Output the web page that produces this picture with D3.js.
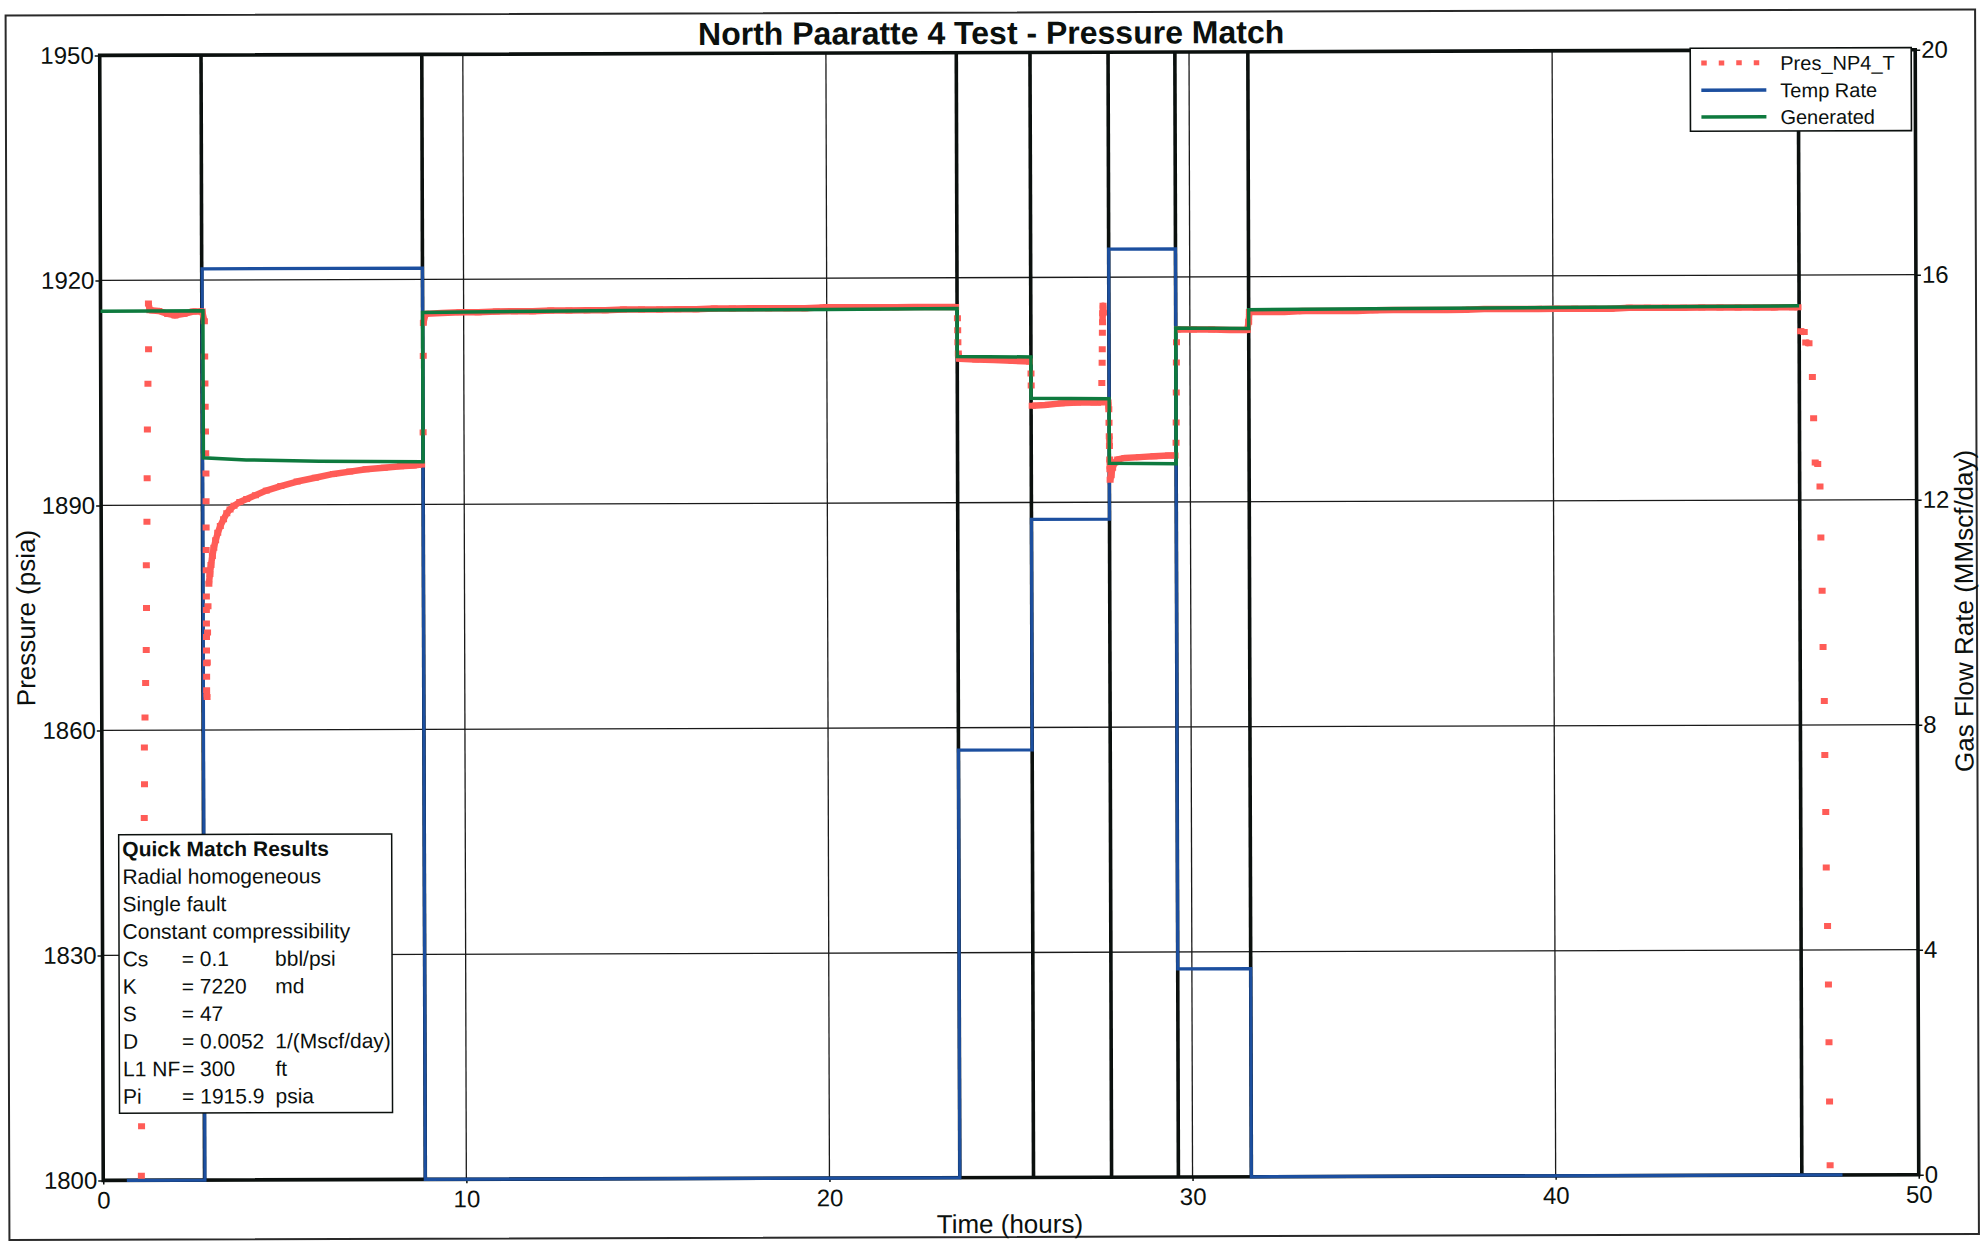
<!DOCTYPE html>
<html>
<head>
<meta charset="utf-8">
<title>North Paaratte 4 Test - Pressure Match</title>
<script src="https://cdn.jsdelivr.net/npm/d3@7"></script>
<style>
  html, body { margin: 0; padding: 0; background: #fff; }
  svg { display: block; font-family: "Liberation Sans", Arial, Helvetica, sans-serif; }
</style>
</head>
<body>
<svg id="chart" width="1981" height="1242"></svg>
<script>
// ---------- axis ticks ----------
const timeTicks = [0, 10, 20, 30, 40, 50];
const pressureTicks = [1800, 1830, 1860, 1890, 1920, 1950];
const rateTicks = [0, 4, 8, 12, 16, 20];
const pressureGrid = [1830, 1860, 1890, 1920];
const timeGrid = [10, 20, 30, 40];

// ---------- flow period boundaries (hours) ----------
const periodBreaks = [2.79, 8.87, 23.59, 25.62, 27.77, 29.61, 31.62, 46.78];

// ---------- gas rate history (step after each time) ----------
const rateHours = [0.65, 2.80, 8.87, 23.59, 25.62, 27.77, 29.61, 31.62, 47.9];
const rateMMscf = [0, 16.2, 0, 7.6, 11.7, 16.5, 3.7, 0, 0];

// ---------- generated (model) pressure ----------
const genHours = [0, 2.82, 2.82, 4.0, 6.0, 8.87, 8.87, 12, 16, 20, 23.59, 23.59, 25.62, 25.62, 27.77, 27.77, 29.61, 29.61, 31.62, 31.62, 36, 41, 46.78];
const genPsia  = [1915.9, 1915.9, 1896.3, 1896.0, 1895.8, 1895.7, 1915.6, 1915.7, 1915.8, 1915.8, 1915.9, 1909.5, 1909.4, 1903.9, 1903.8, 1895.2, 1895.1, 1913.2, 1913.1, 1915.6, 1915.7, 1915.8, 1915.9];

// ---------- gauge readings Pres_NP4_T, [hours, psia] ----------
const presRunIn = [[1.05,1800.6],[1.06,1807.2],[1.16,1848.3],[1.17,1852.8],[1.17,1857.7],[1.19,1861.7],[1.21,1866.3],[1.23,1870.7],[1.24,1876.3],[1.24,1882.0],[1.26,1887.8],[1.27,1893.6],[1.28,1900.1],[1.30,1906.2],[1.32,1910.8],[1.32,1916.9]];
const presStatic = [[1.36,1916.0],[1.60,1915.9],[1.85,1915.5],[2.05,1915.3],[2.30,1915.5],[2.55,1915.8],[2.80,1915.8]];
const presFlow1 = [[2.86,1914.5],[2.865,1909.8],[2.87,1906.2],[2.875,1903.1],[2.88,1899.8],[2.885,1896.9],[2.89,1894.2],[2.89,1890.5],[2.89,1887.0],[2.89,1884.0],[2.89,1881.3],[2.89,1877.8],[2.89,1876.0],[2.89,1874.2],[2.89,1872.4],[2.89,1870.6],[2.89,1868.9],[2.89,1867.1],[2.89,1865.3],[2.90,1864.4],
  [2.91,1869.0],[2.92,1873.0],[2.935,1876.5],[2.96,1879.5],[2.99,1880.8],[3.02,1882.0],[3.06,1883.2],[3.10,1884.3],[3.15,1885.3],[3.21,1886.3],[3.28,1887.2],[3.37,1888.1],[3.46,1888.9],[3.55,1889.4],[3.66,1889.9],[3.82,1890.4],[4.01,1890.8],[4.25,1891.3],[4.55,1891.9],[4.95,1892.5],[5.40,1893.1],[5.90,1893.6],[6.40,1894.1],[6.85,1894.4],[7.30,1894.7],[7.80,1894.9],[8.25,1895.1],[8.60,1895.2],[8.83,1895.3]];
const presShutIn1 = [[8.875,1899.6],[8.885,1909.8],[8.89,1914.2],[8.95,1915.4],[9.4,1915.5],[9.9,1915.6],[10.4,1915.6],[10.9,1915.7],[11.4,1915.7],[11.9,1915.7],[12.4,1915.8],[12.9,1915.8],[13.4,1915.8],[13.9,1915.8],[14.4,1915.9],[14.9,1915.9],[15.4,1915.9],[15.9,1915.9],[16.4,1915.9],[16.9,1916.0],[17.4,1916.0],[17.9,1916.0],[18.4,1916.0],[18.9,1916.0],[19.4,1916.0],[19.9,1916.1],[20.4,1916.1],[20.9,1916.1],[21.4,1916.1],[21.9,1916.1],[22.4,1916.1],[22.9,1916.1],[23.4,1916.1],[23.55,1916.1]];
const presFlow2 = [[23.60,1914.6],[23.605,1913.0],[23.61,1911.4],[23.62,1909.9],[23.65,1909.2],[24.1,1909.1],[24.6,1909.0],[25.1,1908.9],[25.58,1908.8]];
const presFlow3 = [[25.62,1907.2],[25.625,1905.6],[25.65,1902.9],[26.0,1903.0],[26.45,1903.2],[26.9,1903.3],[27.35,1903.3],[27.55,1903.3],[27.57,1905.9],[27.58,1908.6],[27.585,1910.4],[27.59,1912.6],[27.595,1914.0],[27.60,1915.2],[27.61,1916.2],[27.62,1915.3],[27.68,1903.4],[27.74,1903.3]];
const presFlow4 = [[27.76,1902.4],[27.765,1900.6],[27.77,1898.8],[27.775,1897.5],[27.78,1895.7],[27.785,1894.4],[27.79,1893.0],[27.82,1893.6],[27.86,1894.6],[27.92,1895.3],[28.0,1895.7],[28.2,1895.9],[28.6,1896.0],[29.0,1896.1],[29.4,1896.2],[29.58,1896.2]];
const presFlow5 = [[29.61,1897.9],[29.615,1900.6],[29.62,1904.6],[29.625,1908.6],[29.63,1911.3],[29.66,1913.0],[30.1,1913.0],[30.6,1913.0],[31.1,1912.9],[31.58,1912.9]];
const presShutIn2 = [[31.62,1914.0],[31.64,1915.3],[32.1,1915.3],[32.6,1915.3],[33.1,1915.4],[33.6,1915.4],[34.1,1915.4],[34.6,1915.4],[35.1,1915.5],[35.6,1915.5],[36.1,1915.5],[36.6,1915.5],[37.1,1915.5],[37.6,1915.5],[38.1,1915.6],[38.6,1915.6],[39.1,1915.6],[39.6,1915.6],[40.1,1915.6],[40.6,1915.6],[41.1,1915.6],[41.6,1915.6],[42.1,1915.7],[42.6,1915.7],[43.1,1915.7],[43.6,1915.7],[44.1,1915.7],[44.6,1915.7],[45.1,1915.7],[45.6,1915.7],[46.1,1915.7],[46.6,1915.7],[46.75,1915.7]];
const presRunOut = [[46.82,1912.5],[46.92,1912.4],[46.96,1911.0],[47.05,1910.9],[47.14,1906.4],[47.17,1900.9],[47.21,1895.0],[47.28,1894.8],[47.34,1891.8],[47.36,1885.0],[47.39,1877.9],[47.41,1870.4],[47.44,1863.2],[47.45,1856.0],[47.47,1848.4],[47.48,1841.0],[47.51,1833.2],[47.53,1825.4],[47.54,1817.7],[47.55,1809.8],[47.56,1801.3]];

// ---------- legend and match results ----------
const seriesNames = ["Pres_NP4_T", "Temp Rate", "Generated"];
const matchHeading = "Quick Match Results";
const matchModel = ["Radial homogeneous", "Single fault", "Constant compressibility"];
const paramNames = ["Cs", "K", "S", "D", "L1 NF", "Pi"];
const paramValues = ["0.1", "7220", "47", "0.0052", "300", "1915.9"];
const paramUnits = ["bbl/psi", "md", "", "1/(Mscf/day)", "ft", "psia"];

// ---------- colours ----------
const INK = "#0b100e", BLUE = "#1c4f9f", GREEN = "#0e7a3e", SALMON = "#ff5c57";

const svg = d3.select("#chart");
svg.append("rect").attr("width", 1981).attr("height", 1242).attr("fill", "#fff");
const root = svg.append("g").attr("transform", "rotate(-0.18, 990, 621)");

const plotLeft = 101.5, plotRight = 1917, plotTop = 52.6, plotBottom = 1177.6;
const x = d3.scaleLinear().domain([0, 50]).range([plotLeft, plotRight]);
const yP = d3.scaleLinear().domain([1800, 1950]).range([plotBottom, plotTop]);
const yR = d3.scaleLinear().domain([0, 20]).range([plotBottom, plotTop]);

// outer frame
root.append("rect").attr("x", 7.5).attr("y", 12.5).attr("width", 1969.5).attr("height", 1224.5)
  .attr("fill", "none").attr("stroke", "#2a2a2a").attr("stroke-width", 2);

// title
root.append("text").attr("x", 993).attr("y", 44).attr("text-anchor", "middle")
  .attr("font-size", 32).attr("font-weight", "bold").attr("fill", INK)
  .text("North Paaratte 4 Test - Pressure Match");

// grid
const grid = root.append("g").attr("stroke", "#1a1a1a").attr("stroke-width", 1.3);
grid.selectAll("line.h").data(pressureGrid).join("line").attr("class", "h")
  .attr("x1", plotLeft).attr("x2", plotRight).attr("y1", d => yP(d)).attr("y2", d => yP(d));
grid.selectAll("line.v").data(timeGrid).join("line").attr("class", "v")
  .attr("y1", plotTop).attr("y2", plotBottom).attr("x1", d => x(d)).attr("x2", d => x(d));

// axes
function styleAxis(g) {
  g.select(".domain").remove();
  g.selectAll(".tick line").attr("stroke", INK).attr("stroke-width", 1.5);
  g.selectAll(".tick text").attr("fill", INK).attr("font-size", 24)
    .attr("font-family", '"Liberation Sans", Arial, Helvetica, sans-serif');
}
root.append("g").attr("transform", `translate(${plotLeft},0)`)
  .call(d3.axisLeft(yP).tickValues(pressureTicks).tickSize(5).tickPadding(1).tickFormat(d3.format("d")))
  .call(styleAxis);
root.append("g").attr("transform", `translate(${plotRight},0)`)
  .call(d3.axisRight(yR).tickValues(rateTicks).tickSize(5).tickPadding(1).tickFormat(d3.format("d")))
  .call(styleAxis);
root.append("g").attr("transform", `translate(0,${plotBottom})`)
  .call(d3.axisBottom(x).tickValues(timeTicks).tickSize(4).tickPadding(7).tickFormat(d3.format("d")))
  .call(styleAxis);

// plot border
root.append("rect").attr("x", plotLeft).attr("y", plotTop)
  .attr("width", plotRight - plotLeft).attr("height", plotBottom - plotTop)
  .attr("fill", "none").attr("stroke", INK).attr("stroke-width", 3.6);

// flow period boundaries
root.append("g").selectAll("line").data(periodBreaks).join("line")
  .attr("x1", d => x(d)).attr("x2", d => x(d)).attr("y1", plotTop).attr("y2", plotBottom)
  .attr("stroke", INK).attr("stroke-width", 3.6);

// gas rate
const rateLine = d3.line().x(d => x(d[0])).y(d => yR(d[1])).curve(d3.curveStepAfter);
root.append("path").datum(rateHours.map((h, i) => [h, rateMMscf[i]]))
  .attr("d", rateLine).attr("fill", "none").attr("stroke", BLUE).attr("stroke-width", 3.2);

// gauge pressure: squares at each reading, closely spaced level readings joined
const presReadings = [].concat(presRunIn, presStatic, presFlow1, presShutIn1, presFlow2,
  presFlow3, presFlow4, presFlow5, presShutIn2, presRunOut);
const runs = [];
let run = [presReadings[0]];
for (let i = 1; i < presReadings.length; i++) {
  const a = presReadings[i - 1], b = presReadings[i];
  const dx = x(b[0]) - x(a[0]), dy = yP(b[1]) - yP(a[1]);
  if (Math.hypot(dx, dy) <= 20 && Math.abs(dy) <= 10) run.push(b);
  else { runs.push(run); run = [b]; }
}
runs.push(run);
const presG = root.append("g");
const presLine = d3.line().x(d => x(d[0])).y(d => yP(d[1]));
presG.selectAll("path").data(runs.filter(r => r.length > 1)).join("path")
  .attr("d", presLine).attr("fill", "none").attr("stroke", SALMON)
  .attr("stroke-width", 6.5).attr("stroke-linejoin", "round");
presG.selectAll("rect").data(presReadings).join("rect")
  .attr("x", d => x(d[0]) - 3.5).attr("y", d => yP(d[1]) - 3)
  .attr("width", 7).attr("height", 6).attr("fill", SALMON);

// generated pressure
const genLine = d3.line().x(d => x(d[0])).y(d => yP(d[1]));
root.append("path").datum(genHours.map((h, i) => [h, genPsia[i]]))
  .attr("d", genLine).attr("fill", "none").attr("stroke", GREEN).attr("stroke-width", 3.5);

// axis titles
root.append("text").attr("x", 1008).attr("y", 1233).attr("text-anchor", "middle")
  .attr("font-size", 26).attr("fill", INK).text("Time (hours)");
root.append("text").attr("transform", "translate(35,615) rotate(-90)").attr("text-anchor", "middle")
  .attr("font-size", 26).attr("fill", INK).text("Pressure (psia)");
root.append("text").attr("transform", "translate(1973,614) rotate(-90)").attr("text-anchor", "middle")
  .attr("font-size", 26).attr("fill", INK).text("Gas Flow Rate (MMscf/day)");

// legend
const lg = root.append("g").attr("transform", "translate(1692,50.5)");
lg.append("rect").attr("width", 221).attr("height", 83).attr("fill", "#fff")
  .attr("stroke", INK).attr("stroke-width", 1.6);
const rowY = [14.7, 42, 68.7];
lg.selectAll("rect.sq").data([0, 1, 2, 3]).join("rect").attr("class", "sq")
  .attr("x", d => 11 + d * 17.5).attr("y", rowY[0] - 2.5).attr("width", 5.5).attr("height", 5)
  .attr("fill", SALMON);
lg.append("line").attr("x1", 11).attr("x2", 76).attr("y1", rowY[1]).attr("y2", rowY[1])
  .attr("stroke", BLUE).attr("stroke-width", 3.4);
lg.append("line").attr("x1", 11).attr("x2", 76).attr("y1", rowY[2]).attr("y2", rowY[2])
  .attr("stroke", GREEN).attr("stroke-width", 3.4);
lg.selectAll("text").data(seriesNames).join("text")
  .attr("x", 90).attr("y", (d, i) => rowY[i] + 7.3).attr("font-size", 20).attr("fill", INK)
  .text(d => d);

// match results box
const mb = root.append("g").attr("transform", "translate(118,832)");
mb.append("rect").attr("width", 273).attr("height", 278.5).attr("fill", "#fff")
  .attr("stroke", INK).attr("stroke-width", 1.5);
const lineStep = 27.48, firstBase = 21.7;
mb.append("text").attr("x", 3.6).attr("y", firstBase).attr("font-size", 21)
  .attr("font-weight", "bold").attr("fill", INK).text(matchHeading);
mb.selectAll("text.model").data(matchModel).join("text").attr("class", "model")
  .attr("x", 3.6).attr("y", (d, i) => firstBase + lineStep * (i + 1))
  .attr("font-size", 21).attr("fill", INK).text(d => d);
const rows = mb.selectAll("g.param").data(paramNames).join("g").attr("class", "param")
  .attr("transform", (d, i) => `translate(0,${firstBase + lineStep * (i + 4)})`);
rows.append("text").attr("x", 3.6).attr("font-size", 21).attr("fill", INK).text(d => d);
rows.append("text").attr("x", 62.6).attr("font-size", 21).attr("fill", INK)
  .text((d, i) => "= " + paramValues[i]);
rows.append("text").attr("x", 156).attr("font-size", 21).attr("fill", INK)
  .text((d, i) => paramUnits[i]);
</script>
</body>
</html>
